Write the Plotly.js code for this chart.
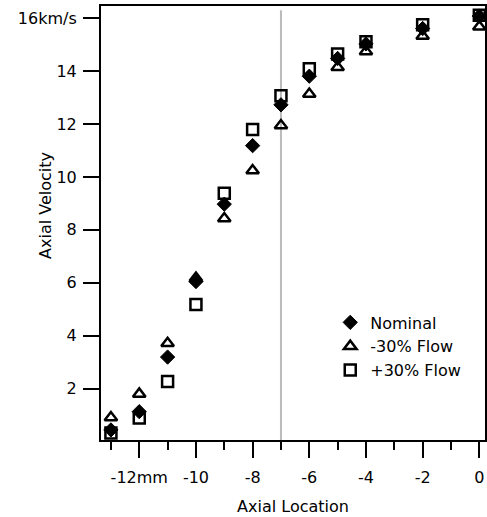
<!DOCTYPE html>
<html>
<head>
<meta charset="utf-8">
<script src="https://cdn.plot.ly/plotly-3.0.1.min.js"></script>
<style>html,body{margin:0;padding:0;background:#fff;}#chart{width:487px;height:517px;}</style>
</head>
<body>
<div id="chart"></div>
<script>
const location_mm = [-13, -12, -11, -10, -9, -8, -7, -6, -5, -4, -2, 0];
const nominal   = [0.45, 1.14, 3.2, 6.05, 8.97, 11.18, 12.72, 13.8, 14.47, 15.02, 15.6, 16.07];
const minus30   = [0.92, 1.81, 3.72, 6.18, 8.43, 10.24, 11.94, 13.13, 14.14, 14.73, 15.32, 15.67];
const plus30    = [0.33, 0.9, 2.28, 5.18, 9.38, 11.79, 13.06, 14.08, 14.64, 15.1, 15.74, 16.1];
const seriesNames = ['Nominal', '-30% Flow', '+30% Flow'];
const xTickVals = [-12, -10, -8, -6, -4, -2, 0];
const xTickText = ['-12mm', '-10', '-8', '-6', '-4', '-2', '0'];
const yTickVals = [2, 4, 6, 8, 10, 12, 14, 16];
const yTickText = ['2', '4', '6', '8', '10', '12', '14', '16km/s'];
const refLineX = -7;

const FONT = 'DejaVu Sans, sans-serif';
const FS = 16;
const traces = [
  {x: location_mm, y: nominal, name: seriesNames[0], type: 'scatter', mode: 'markers',
   marker: {symbol: 'diamond', size: 11, color: '#000', line: {color: '#000', width: 1}}},
  {x: location_mm, y: minus30, name: seriesNames[1], type: 'scatter', mode: 'markers',
   marker: {symbol: 'triangle-up-open', size: 11, color: '#000', line: {color: '#000', width: 2.5}}},
  {x: location_mm, y: plus30, name: seriesNames[2], type: 'scatter', mode: 'markers',
   marker: {symbol: 'square-open', size: 11, color: '#000', line: {color: '#000', width: 2.5}}}
];

const layout = {
  width: 487, height: 517,
  margin: {l: 101, r: 2, t: 6, b: 77},
  paper_bgcolor: '#fff', plot_bgcolor: '#fff',
  font: {family: FONT, size: FS, color: '#000'},
  showlegend: true,
  legend: {x: 0.597, y: 0.31, xanchor: 'left', yanchor: 'top', bgcolor: 'rgba(0,0,0,0)',
           itemwidth: 30, tracegroupgap: 0,
           font: {family: FONT, size: FS, color: '#000'}},
  xaxis: {
    range: [-13.35, 0.2], showgrid: false, zeroline: false,
    showline: true, linecolor: '#000', linewidth: 2, mirror: true,
    ticks: 'outside', ticklen: 16, tickwidth: 2, tickcolor: '#000',
    ticklabelstandoff: 6,
    tickvals: xTickVals, ticktext: xTickText,
    minor: {dtick: 1, tick0: 0, ticks: 'outside', ticklen: 8, tickwidth: 2, tickcolor: '#000', showgrid: false},
    title: {text: 'Axial Location', font: {family: FONT, size: FS}, standoff: 15}
  },
  yaxis: {
    range: [0.07, 16.45], showgrid: false, zeroline: false,
    showline: true, linecolor: '#000', linewidth: 2, mirror: true,
    ticks: 'outside', ticklen: 16, tickwidth: 2, tickcolor: '#000',
    ticklabelstandoff: 3,
    tickvals: yTickVals, ticktext: yTickText
  },
  shapes: [{type: 'line', xref: 'x', yref: 'paper', x0: refLineX, x1: refLineX, y0: 0, y1: 0.99,
            line: {color: '#bbbbbb', width: 2}, layer: 'below'}],
  annotations: [{text: 'Axial Velocity', textangle: -90, xref: 'paper', yref: 'paper',
                 x: -0.145, y: 0.54, xanchor: 'center', yanchor: 'middle', showarrow: false,
                 font: {family: FONT, size: FS, color: '#000'}}]
};
Plotly.newPlot('chart', traces, layout, {staticPlot: true, displayModeBar: false});
</script>
</body>
</html>
